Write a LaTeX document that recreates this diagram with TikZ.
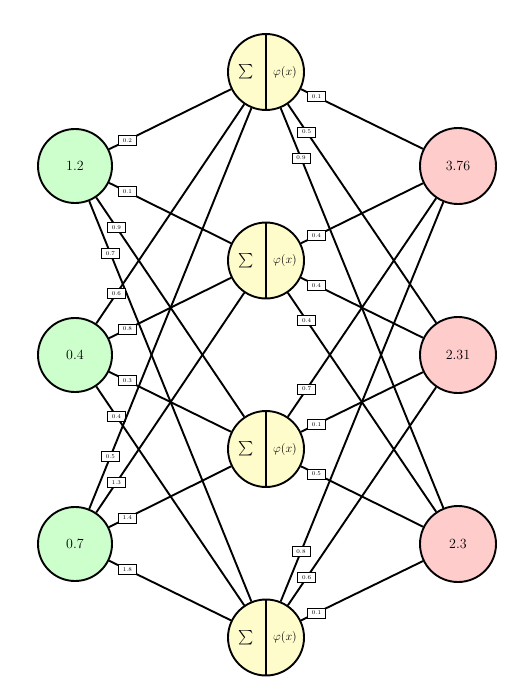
\documentclass[tikz,border=0pt]{standalone}
\usepackage{amsmath}
\begin{document}
\begin{tikzpicture}[x=1pt,y=-1pt,
  neuron/.style={circle,draw,line width=1.9pt,minimum size=74pt,inner sep=0pt,font=\fontsize{14}{16}\selectfont},
  inp/.style={neuron,fill=green!20},
  hid/.style={neuron,fill=yellow!20,minimum size=76pt},
  outp/.style={neuron,fill=red!20,minimum size=76pt},
  conn/.style={line width=1.9pt},
  wlbl/.style={draw,fill=white,line width=0.8pt,inner sep=0pt,minimum width=18pt,minimum height=10pt,font=\fontsize{5.8}{6}\selectfont}
]
\useasboundingbox (0,0) rectangle (532,688);
% inputs
\node[inp] (i1) at (75,166) {1.2};
\node[inp] (i2) at (75,355) {0.4};
\node[inp] (i3) at (75,544) {0.7};
% hidden
\node[hid] (h1) at (266,72) {};
\node[hid] (h2) at (266,260.5) {};
\node[hid] (h3) at (266,449) {};
\node[hid] (h4) at (266,637.5) {};
% outputs
\node[outp] (o1) at (458,166) {3.76};
\node[outp] (o2) at (458,355) {2.31};
\node[outp] (o3) at (458,544) {2.3};
% input -> hidden
\draw[conn] (i1) -- node[wlbl,pos=0.15]{0.2} (h1);
\draw[conn] (i1) -- node[wlbl,pos=0.15]{0.1} (h2);
\draw[conn] (i1) -- node[wlbl,pos=0.136]{0.9} (h3);
\draw[conn] (i1) -- node[wlbl,pos=0.13]{0.7} (h4);
\draw[conn] (i2) -- node[wlbl,pos=0.136]{0.6} (h1);
\draw[conn] (i2) -- node[wlbl,pos=0.15]{0.8} (h2);
\draw[conn] (i2) -- node[wlbl,pos=0.15]{0.3} (h3);
\draw[conn] (i2) -- node[wlbl,pos=0.136]{0.4} (h4);
\draw[conn] (i3) -- node[wlbl,pos=0.13]{0.5} (h1);
\draw[conn] (i3) -- node[wlbl,pos=0.136]{1.3} (h2);
\draw[conn] (i3) -- node[wlbl,pos=0.15]{1.4} (h3);
\draw[conn] (i3) -- node[wlbl,pos=0.15]{1.8} (h4);
% hidden -> output
\draw[conn] (h1) -- node[wlbl,pos=0.127]{0.1} (o1);
\draw[conn] (h1) -- node[wlbl,pos=0.127]{0.5} (o2);
\draw[conn] (h1) -- node[wlbl,pos=0.125]{0.9} (o3);
\draw[conn] (h2) -- node[wlbl,pos=0.127]{0.4} (o1);
\draw[conn] (h2) -- node[wlbl,pos=0.127]{0.4} (o2);
\draw[conn] (h2) -- node[wlbl,pos=0.127]{0.4} (o3);
\draw[conn] (h3) -- node[wlbl,pos=0.127]{0.7} (o1);
\draw[conn] (h3) -- node[wlbl,pos=0.127]{0.1} (o2);
\draw[conn] (h3) -- node[wlbl,pos=0.127]{0.5} (o3);
\draw[conn] (h4) -- node[wlbl,pos=0.125]{0.8} (o1);
\draw[conn] (h4) -- node[wlbl,pos=0.127]{0.6} (o2);
\draw[conn] (h4) -- node[wlbl,pos=0.127]{0.1} (o3);
% hidden node internals
\foreach \h in {h1,h2,h3,h4}{
  \draw[line width=1.9pt] (\h.north) -- (\h.south);
  \node[font=\fontsize{15}{17}\selectfont] (\h s) at ([xshift=-20pt]\h.center) {$\sum$};
  \node[font=\fontsize{13}{15}\selectfont] (\h f) at ([xshift=19pt]\h.center) {$\varphi(x)$};
}
\end{tikzpicture}
\end{document}
